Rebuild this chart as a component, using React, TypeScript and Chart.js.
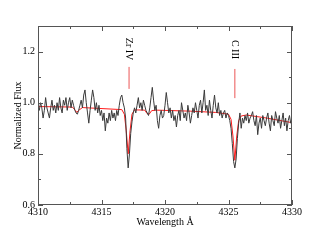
import React, { useEffect, useRef } from "react";
import { Chart, registerables } from "chart.js";

Chart.register(...registerables);

// Observed spectrum: wavelengths start at 4310 Å with 0.1 Å sampling
const waveStart = 4310;
const waveStep = 0.1;
const observedFlux = [
  0.99, 0.97, 1.0, 0.98, 0.94, 0.97, 1.02, 0.98, 0.96, 0.94,
  0.98, 1.01, 0.97, 0.99, 0.96, 1.0, 0.97, 1.02, 0.98, 0.96,
  1.01, 0.99, 1.02, 0.97, 1.0, 1.02, 0.98, 1.01, 0.99, 0.97,
  0.96, 0.955, 0.97, 0.99, 1.01, 0.98, 1.03, 1.05, 1.0, 0.96,
  0.92, 0.97, 1.01, 1.05, 1.02, 0.97, 1.0, 0.96, 0.99, 0.95,
  0.97, 0.93, 0.96, 0.89, 0.94, 0.92, 0.96, 0.93, 0.97, 0.94,
  0.96, 0.93, 0.97, 0.95, 0.99, 1.02, 1.03, 1.0, 0.98, 0.94,
  0.82, 0.745, 0.8, 0.88, 0.925, 0.96, 0.98, 0.96, 0.99, 1.02,
  0.98, 1.0, 0.97, 1.01, 0.99, 0.97, 0.96, 0.95, 0.98, 1.02,
  1.06, 1.01, 0.97, 0.99, 0.93, 0.9, 0.95, 0.97, 0.94, 0.95,
  0.99, 1.04, 1.0, 0.96, 0.98, 0.94, 0.97, 0.93, 0.95, 0.905,
  0.95, 0.97, 0.93, 1.0, 0.97, 0.94, 0.96, 0.93, 0.99, 0.96,
  0.92, 0.95, 0.98, 0.96, 1.0, 0.97, 0.94, 0.99, 1.01, 0.96,
  1.0, 1.05, 0.97, 0.99, 0.95, 1.01, 0.97, 0.94, 0.99, 1.03,
  0.98, 0.96, 1.0, 0.95, 0.97, 0.94, 0.96, 0.97, 0.94, 0.96,
  0.95, 0.93, 0.9, 0.84, 0.77, 0.745, 0.78, 0.86, 0.92, 0.96,
  0.9, 0.94, 0.92, 0.95, 0.93, 0.96, 0.92, 0.94, 0.95, 0.965,
  0.93, 0.91, 0.95, 0.875, 0.92, 0.94, 0.9, 0.95, 0.93, 0.91,
  0.94, 0.96, 0.92, 0.89, 0.95, 0.93, 0.91, 0.965, 0.94, 0.92,
  0.95, 0.9, 0.93, 0.96, 0.91, 0.94, 0.89, 0.93, 0.95, 0.92,
  0.92,
];

// Model spectrum (red)
const modelWave = [
  4310, 4312.7, 4312.95, 4313.05, 4313.2, 4313.5, 4316.6, 4316.8, 4316.95, 4317.1,
  4317.25, 4317.4, 4317.6, 4318.4, 4318.6, 4318.75, 4318.95, 4319.3, 4322, 4324,
  4325.0, 4325.2, 4325.35, 4325.5, 4325.65, 4325.8, 4326.0, 4326.4, 4328, 4330,
];
const modelFlux = [
  0.985, 0.983, 0.97, 0.962, 0.97, 0.981, 0.973, 0.955, 0.89, 0.8,
  0.89, 0.955, 0.972, 0.971, 0.957, 0.955, 0.969, 0.971, 0.967, 0.962,
  0.955, 0.935, 0.87, 0.775, 0.87, 0.93, 0.948, 0.952, 0.94, 0.922,
];

// Line identifications
const lineLabels = ["Zr IV", "C III"];
const lineWaves = [4317.17, 4325.5];
const lineMarkTop = [1.14, 1.132];
const lineMarkBottom = [1.054, 1.018];
const lineLabelY = [1.21, 1.208];

// Axes
const xMin = 4310;
const xMax = 4330;
const yMin = 0.6;
const yMax = 1.3;
const xTicks = [4310, 4315, 4320, 4325, 4330];
const xMinorTicks = [4312.5, 4317.5, 4322.5, 4327.5];
const yTicks = [0.6, 0.8, 1.0, 1.2];
const yMinorTicks = [0.7, 0.9, 1.1];

const FONT = "'Liberation Serif', 'DejaVu Serif', serif";
const FRAME = "#555";

const decorPlugin = {
  id: "decor",
  afterDraw(chart: any) {
    const { ctx, chartArea: a, scales } = chart;
    const x = scales.x;
    const y = scales.y;
    ctx.save();
    ctx.strokeStyle = FRAME;
    ctx.lineWidth = 1;
    const seg = (x1: number, y1: number, x2: number, y2: number) => {
      ctx.beginPath();
      ctx.moveTo(x1, y1);
      ctx.lineTo(x2, y2);
      ctx.stroke();
    };
    // frame
    ctx.strokeRect(a.left + 0.5, a.top + 0.5, a.right - a.left - 1, a.bottom - a.top - 1);
    const xt = (vals: number[], len: number) => {
      for (const v of vals) {
        const px = Math.round(x.getPixelForValue(v)) + 0.5;
        seg(px, a.bottom, px, a.bottom - len);
        seg(px, a.top, px, a.top + len);
      }
    };
    const yt = (vals: number[], len: number) => {
      for (const v of vals) {
        const py = Math.round(y.getPixelForValue(v)) + 0.5;
        seg(a.left, py, a.left + len, py);
        seg(a.right, py, a.right - len, py);
      }
    };
    xt(xTicks, 5);
    xt(xMinorTicks, 3);
    yt(yTicks, 5);
    yt(yMinorTicks, 3);

    // line identifications
    ctx.strokeStyle = "rgba(230,30,30,0.75)";
    ctx.fillStyle = "#000";
    ctx.font = `10px ${FONT}`;
    ctx.textAlign = "center";
    ctx.textBaseline = "middle";
    lineLabels.forEach((lab, i) => {
      const px = x.getPixelForValue(lineWaves[i]);
      seg(px, y.getPixelForValue(lineMarkTop[i]), px, y.getPixelForValue(lineMarkBottom[i]));
      ctx.save();
      ctx.translate(px, y.getPixelForValue(lineLabelY[i]));
      ctx.rotate(Math.PI / 2);
      ctx.fillText(lab, 0, 0);
      ctx.restore();
    });
    ctx.restore();
  },
};

export default function App() {
  const ref = useRef<HTMLCanvasElement | null>(null);
  useEffect(() => {
    document.body.style.margin = "0";
    if (!ref.current) return;
    const observed = observedFlux.map((v, i) => ({ x: waveStart + i * waveStep, y: v }));
    const model = modelWave.map((w, i) => ({ x: w, y: modelFlux[i] }));
    const chart = new Chart(ref.current, {
      type: "scatter",
      data: {
        datasets: [
          {
            data: observed,
            showLine: true,
            borderColor: "#3a3a3a",
            borderWidth: 1,
            pointRadius: 0,
            tension: 0,
          },
          {
            data: model,
            showLine: true,
            borderColor: "#ff1a1a",
            borderWidth: 1,
            pointRadius: 0,
            tension: 0,
          },
        ],
      },
      options: {
        animation: false,
        responsive: false,
        maintainAspectRatio: false,
        layout: { padding: { top: 26, right: 38, left: 0, bottom: 0 } },
        plugins: { legend: { display: false }, tooltip: { enabled: false } },
        scales: {
          x: {
            type: "linear",
            min: xMin,
            max: xMax,
            grid: { display: false, drawTicks: false },
            border: { display: false },
            afterBuildTicks: (s: any) => {
              s.ticks = xTicks.map((v) => ({ value: v }));
            },
            afterFit: (s: any) => {
              s.height = 39;
            },
            ticks: {
              autoSkip: false,
              maxRotation: 0,
              padding: 1,
              color: "#000",
              font: { family: FONT, size: 10 },
              callback: (v: any) => String(v),
            },
            title: {
              display: true,
              text: "Wavelength Å",
              color: "#000",
              font: { family: FONT, size: 10 },
              padding: { top: 0, bottom: 16 },
            },
          },
          y: {
            type: "linear",
            min: yMin,
            max: yMax,
            grid: { display: false, drawTicks: false },
            border: { display: false },
            afterBuildTicks: (s: any) => {
              s.ticks = yTicks.map((v) => ({ value: v }));
            },
            afterFit: (s: any) => {
              s.width = 38;
            },
            ticks: {
              autoSkip: false,
              padding: 3,
              color: "#000",
              font: { family: FONT, size: 10 },
              callback: (v: any) => Number(v).toFixed(1),
            },
            title: {
              display: true,
              text: "Normalized Flux",
              color: "#000",
              font: { family: FONT, size: 10 },
              padding: { top: 12, bottom: 0 },
            },
          },
        },
      },
      plugins: [decorPlugin],
    });
    return () => chart.destroy();
  }, []);
  return (
    <div style={{ width: 330, height: 244 }}>
      <canvas ref={ref} width={330} height={244} style={{ display: "block" }} />
    </div>
  );
}
